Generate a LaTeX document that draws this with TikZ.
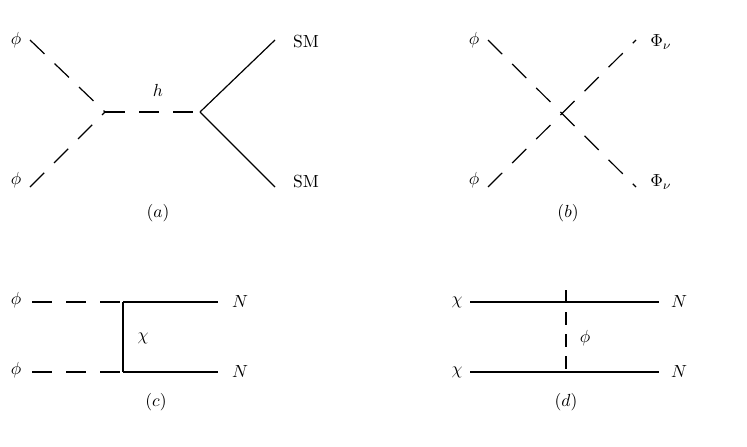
\documentclass[tikz,border=0pt]{standalone}
\begin{document}
\begin{tikzpicture}[x=1pt,y=-1pt,
  sc/.style={dash pattern=on 20pt off 14pt,line width=1.2pt},
  fe/.style={line width=1.2pt},
  lb/.style={font=\normalsize,scale=1.75,inner sep=1pt}]
\useasboundingbox (0,0) rectangle (747,447);
% (a)
\coordinate (a1) at (30,40); \coordinate (a2) at (30,187);
\coordinate (va) at (105,112); \coordinate (vb) at (200,112);
\coordinate (a3) at (275,40); \coordinate (a4) at (275,187);
\draw[sc] (a1) -- (va); \draw[sc] (a2) -- (va); \draw[sc] (va) -- (vb);
\draw[fe] (vb) -- (a3); \draw[fe] (vb) -- (a4);
\node[lb] (pa1) at (16,40) {$\phi$}; \node[lb] (pa2) at (16,180) {$\phi$};
\node[lb] (h) at (158,90) {$h$};
\node[lb] (sm1) at (306,42) {SM}; \node[lb] (sm2) at (306,182) {SM};
\node[lb] (la) at (158,213) {$(a)$};
% (b)
\coordinate (b1) at (488,40); \coordinate (b2) at (488,187);
\coordinate (b3) at (636,40); \coordinate (b4) at (636,187);
\draw[sc] (b1) -- (b4); \draw[sc] (b2) -- (b3);
\node[lb] (pb1) at (474,40) {$\phi$}; \node[lb] (pb2) at (474,180) {$\phi$};
\node[lb] (Pb1) at (661,42) {$\Phi_\nu$}; \node[lb] (Pb2) at (661,182) {$\Phi_\nu$};
\node[lb] (lb) at (568,213) {$(b)$};
% (c)
\coordinate (c1) at (32,302); \coordinate (c2) at (32,372);
\coordinate (c3) at (123,302); \coordinate (c4) at (123,372);
\coordinate (c5) at (218,302); \coordinate (c6) at (218,372);
\draw[sc] (c1) -- (c3); \draw[sc] (c2) -- (c4);
\draw[fe] (c3) -- (c5); \draw[fe] (c4) -- (c6); \draw[fe] (c3) -- (c4);
\node[lb] (pc1) at (16,300) {$\phi$}; \node[lb] (pc2) at (16,370) {$\phi$};
\node[lb] (chi) at (143,338) {$\chi$};
\node[lb] (Nc1) at (240,302) {$N$}; \node[lb] (Nc2) at (240,372) {$N$};
\node[lb] (lc) at (156,402) {$(c)$};
% (d)
\coordinate (d1) at (470,302); \coordinate (d2) at (470,372);
\coordinate (d3) at (566,302); \coordinate (d4) at (566,372);
\coordinate (d5) at (659,302); \coordinate (d6) at (659,372);
\draw[fe] (d1) -- (d5); \draw[fe] (d2) -- (d6);
\draw[dash pattern=on 13pt off 9pt,line width=1.2pt] ([yshift=12pt]d3) -- (d4);
\node[lb] (xd1) at (457,302) {$\chi$}; \node[lb] (xd2) at (457,372) {$\chi$};
\node[lb] (pd) at (585,338) {$\phi$};
\node[lb] (Nd1) at (679,302) {$N$}; \node[lb] (Nd2) at (679,372) {$N$};
\node[lb] (ld) at (566,402) {$(d)$};
\end{tikzpicture}
\end{document}
